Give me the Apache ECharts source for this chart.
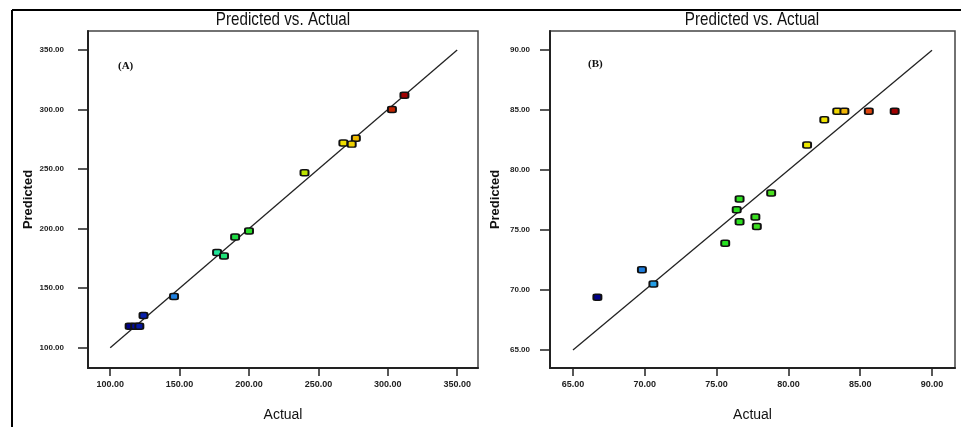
<!DOCTYPE html>
<html>
<head>
<meta charset="utf-8">
<script src="https://cdn.jsdelivr.net/npm/echarts@6/dist/echarts.min.js"></script>
<style>
html,body{margin:0;padding:0;background:#fff;}
#c{width:961px;height:427px;}
</style>
</head>
<body>
<div id="c"></div>
<script>
// ---- data ----
const leftActual    = [312, 303, 277, 268, 274, 240, 200, 190, 177, 182, 146, 124, 114, 118, 121];
const leftPredicted = [312, 300, 276, 272, 271, 247, 198, 193, 180, 177, 143, 127, 118, 118, 118];
const rightActual    = [66.7, 69.8, 70.6, 75.6, 76.4, 76.6, 76.6, 77.7, 77.8, 78.8, 81.3, 82.5, 83.4, 83.9, 85.6, 87.4];
const rightPredicted = [69.4, 71.7, 70.5, 73.9, 76.7, 77.6, 75.7, 76.1, 75.3, 78.1, 82.1, 84.2, 84.9, 84.9, 84.9, 84.9];
const leftTicks  = [100, 150, 200, 250, 300, 350];
const rightTicks = [65, 70, 75, 80, 85, 90];
const leftLine  = [100, 350];
const rightLine = [65, 90];
const titleText = 'Predicted vs. Actual';
const panelLabels = ['(A)', '(B)'];
const xName = 'Actual';
const yName = 'Predicted';

// ---- chart ----
const NARROW = '"Liberation Sans Narrow", "Arial Narrow", "Liberation Sans", Arial, sans-serif';
const SANS = '"Liberation Sans", Arial, sans-serif';
const chart = echarts.init(document.getElementById('c'), null, {renderer: 'canvas'});

const pairs = (a, b) => a.map((v, i) => [v, b[i]]);
const fmt = v => Number(v).toFixed(2);

function xAxis(idx, min, max, ticks, gap) {
  return {
    type: 'value', gridIndex: idx, min: min, max: max,
    name: xName, nameLocation: 'middle', nameGap: gap,
    nameTextStyle: {fontFamily: NARROW, fontSize: 14, color: '#111'},
    axisLine: {show: true, onZero: false, lineStyle: {color: '#222', width: 2}},
    axisTick: {show: true, customValues: ticks, length: 8, lineStyle: {color: '#222', width: 1.5}},
    axisLabel: {customValues: ticks, formatter: fmt, margin: 12, fontFamily: NARROW, fontWeight: 'bold', fontSize: 9, color: '#222'},
    splitLine: {show: false}
  };
}
function yAxis(idx, min, max, ticks, gap, margin) {
  return {
    type: 'value', gridIndex: idx, min: min, max: max,
    name: yName, nameLocation: 'middle', nameGap: gap,
    nameTextStyle: {fontFamily: SANS, fontWeight: 'bold', fontSize: 13, color: '#111'},
    axisLine: {show: true, onZero: false, lineStyle: {color: '#222', width: 2}},
    axisTick: {show: true, customValues: ticks, length: 10, lineStyle: {color: '#222', width: 1.5}},
    axisLabel: {customValues: ticks, formatter: fmt, margin: margin, fontFamily: NARROW, fontWeight: 'bold', fontSize: 8, color: '#222'},
    splitLine: {show: false}
  };
}

const markerStyle = {borderColor: '#111', borderWidth: 1.7, opacity: 1};
const titleFont = '19px "Liberation Sans", Arial, sans-serif';

const option = {
  animation: false,
  backgroundColor: '#fff',
  grid: [
    {left: 88, top: 31, width: 390, height: 338, show: true, borderColor: '#444', borderWidth: 1.5, backgroundColor: 'transparent'},
    {left: 550, top: 31, width: 405, height: 338, show: true, borderColor: '#444', borderWidth: 1.5, backgroundColor: 'transparent'}
  ],
  xAxis: [
    xAxis(0, 84, 365, leftTicks, 40),
    xAxis(1, 63.4, 91.6, rightTicks, 40)
  ],
  yAxis: [
    yAxis(0, 83, 366, leftTicks, 53, 24),
    yAxis(1, 63.5, 91.6, rightTicks, 48, 20)
  ],
  visualMap: [
    {type: 'continuous', show: false, seriesIndex: 1, dimension: 0, min: Math.min(...leftActual), max: Math.max(...leftActual),
     inRange: {color: ['#000088', '#1040d0', '#28a8e8', '#20e8b0', '#20d830', '#40e020', '#a0e000', '#ece800', '#f0dc00', '#e85000', '#a00000']}},
    {type: 'continuous', show: false, seriesIndex: 3, dimension: 0, min: Math.min(...rightActual), max: Math.max(...rightActual),
     inRange: {color: ['#000088', '#1050d0', '#28a8e8', '#20e8a0', '#20e020', '#30e020', '#50e020', '#ece800', '#f0e000', '#e85010', '#a00000']}}
  ],
  series: [
    {type: 'line', xAxisIndex: 0, yAxisIndex: 0, data: pairs(leftLine, leftLine), symbol: 'none', silent: true,
     lineStyle: {color: '#222', width: 1.3}, z: 2},
    {type: 'scatter', xAxisIndex: 0, yAxisIndex: 0, data: pairs(leftActual, leftPredicted),
     symbol: 'roundRect', symbolSize: [8, 6], itemStyle: markerStyle, z: 3},
    {type: 'line', xAxisIndex: 1, yAxisIndex: 1, data: pairs(rightLine, rightLine), symbol: 'none', silent: true,
     lineStyle: {color: '#222', width: 1.3}, z: 2},
    {type: 'scatter', xAxisIndex: 1, yAxisIndex: 1, data: pairs(rightActual, rightPredicted),
     symbol: 'roundRect', symbolSize: [8, 6], itemStyle: markerStyle, z: 3}
  ],
  graphic: [
    {type: 'line', shape: {x1: 12, y1: 10, x2: 961, y2: 10}, style: {stroke: '#000', lineWidth: 2}},
    {type: 'line', shape: {x1: 12, y1: 10, x2: 12, y2: 427}, style: {stroke: '#000', lineWidth: 2}},
    {type: 'text', x: 283, y: 20, scaleX: 0.8,
     style: {text: titleText, font: titleFont, fill: '#111', textAlign: 'center', textVerticalAlign: 'middle'}},
    {type: 'text', x: 752, y: 20, scaleX: 0.8,
     style: {text: titleText, font: titleFont, fill: '#111', textAlign: 'center', textVerticalAlign: 'middle'}},
    {type: 'text', left: 118, top: 61, style: {text: panelLabels[0], font: 'bold 11px "Liberation Serif", "Times New Roman", serif', fill: '#111'}},
    {type: 'text', left: 588, top: 59, style: {text: panelLabels[1], font: 'bold 11px "Liberation Serif", "Times New Roman", serif', fill: '#111'}}
  ]
};
chart.setOption(option);
</script>
</body>
</html>
